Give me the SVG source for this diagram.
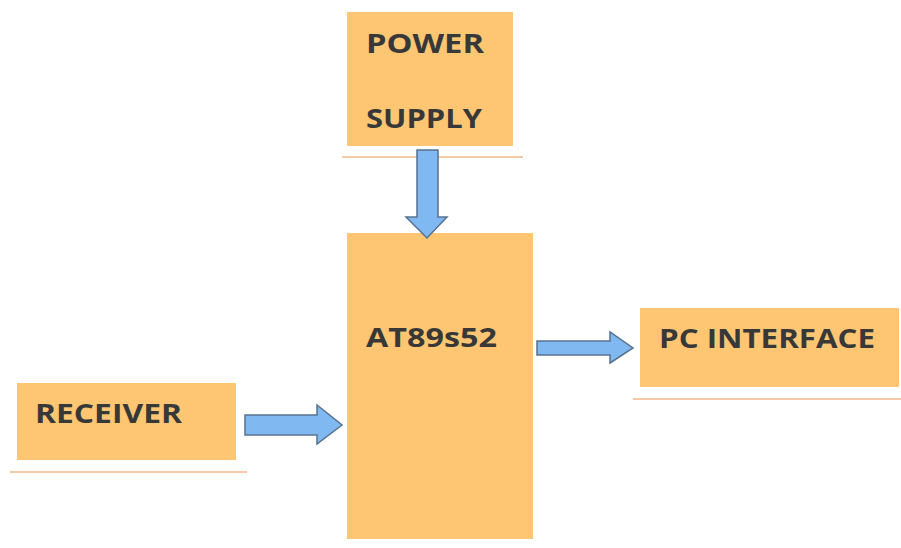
<svg xmlns="http://www.w3.org/2000/svg" width="901" height="548" viewBox="0 0 901 548">
<style>
.box{fill:#FEC672;}
.rule{stroke:#F8C9A6;stroke-width:2;}
.lbl{font-family:"Open Sans","Liberation Sans",sans-serif;font-weight:bold;font-size:27.5px;fill:#383838;}
.arr{fill:#80B9F2;stroke:#56718E;stroke-width:1.5;stroke-linejoin:miter;}
</style>
<rect width="901" height="548" fill="#ffffff"/>
<g id="power-supply">
<rect class="box" x="347" y="12" width="166" height="134"/>
<line class="rule" x1="342" y1="157" x2="523" y2="157"/>
<text class="lbl" x="366" y="53" textLength="118" lengthAdjust="spacingAndGlyphs">POWER</text>
<text class="lbl" x="366" y="128" textLength="116" lengthAdjust="spacingAndGlyphs">SUPPLY</text>
</g>
<g id="mcu">
<rect class="box" x="347" y="233" width="186" height="306"/>
<text class="lbl" x="366" y="347" textLength="131" lengthAdjust="spacingAndGlyphs">AT89s52</text>
</g>
<g id="receiver">
<rect class="box" x="17" y="383" width="219" height="77"/>
<line class="rule" x1="10" y1="472" x2="247" y2="472"/>
<text class="lbl" x="35" y="423" textLength="147" lengthAdjust="spacingAndGlyphs">RECEIVER</text>
</g>
<g id="pc-interface">
<rect class="box" x="640" y="308" width="259" height="79"/>
<line class="rule" x1="633" y1="399" x2="901" y2="399"/>
<text class="lbl" x="659" y="348" textLength="216" lengthAdjust="spacingAndGlyphs">PC INTERFACE</text>
</g>
<g id="connectors">
<polygon class="arr" points="417,150 438,150 438,217 447,217 427,238 406,217 417,217"/>
<polygon class="arr" points="245,415 317,415 317,405 342,425 317,444 317,435 245,435"/>
<polygon class="arr" points="537,341 610,341 610,332 633,348 610,363 610,355 537,355"/>
</g>
</svg>
